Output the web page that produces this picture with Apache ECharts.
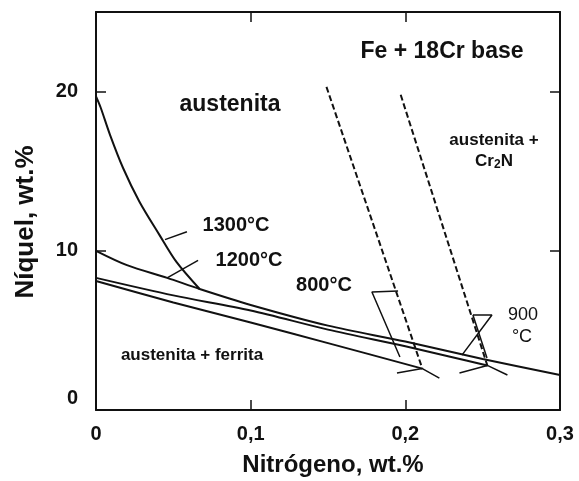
<!DOCTYPE html>
<html>
<head>
<meta charset="utf-8">
<script src="https://cdn.jsdelivr.net/npm/echarts@6/dist/echarts.min.js"></script>
<style>
	html, body { margin: 0; padding: 0; background: #fff; }
	#diagrama { width: 579px; height: 481px; }
</style>
</head>
<body>
<div id="diagrama"></div>
<script>
let ticksX = [0, 0.1, 0.2, 0.3];
let ticksY = [0, 10, 20];

let curva1300 = [[0, 19.7], [0.003, 19.0], [0.009, 17.3], [0.0175, 15.2], [0.028, 13.1], [0.041, 11.0], [0.052, 9.3], [0.067, 7.6]];
let curva1200 = [[0, 10.0], [0.02, 9.1], [0.046, 8.3], [0.067, 7.6], [0.1, 6.6], [0.15, 5.3], [0.2, 4.3], [0.25, 3.2], [0.3, 2.2]];
let limite900 = [[0, 8.3], [0.05, 7.2], [0.1, 6.25], [0.15, 5.05], [0.2, 4.0], [0.229, 3.35], [0.253, 2.8]];
let limite800 = [[0, 8.1], [0.05, 6.75], [0.1, 5.5], [0.15, 4.2], [0.211, 2.6]];

let trazo800 = [[0.149, 20.3], [0.211, 2.6]];
let trazo900 = [[0.197, 19.8], [0.253, 2.8]];

let remate800 = [[0.1946, 2.32], [0.211, 2.6], [0.222, 2.0]];
let remate900 = [[0.235, 2.32], [0.253, 2.8], [0.266, 2.2]];

let flecha1300 = [[0.0446, 10.7], [0.0588, 11.2]];
let flecha1200 = [[0.046, 8.3], [0.066, 9.4]];
let flecha800 = [[0.1953, 7.47], [0.1784, 7.41], [0.1965, 3.33]];
let flecha900a = [[0.2437, 5.97], [0.256, 5.97], [0.2366, 3.45]];
let flecha900b = [[0.2437, 5.97], [0.2528, 3.27]];

let fuente = 'Liberation Sans, Arial, sans-serif';

function linea(datos, ancho, suave, tipo) {
	return {
		type: 'line',
		data: datos,
		showSymbol: false,
		smooth: suave,
		silent: true,
		lineStyle: {color: '#111', width: ancho, type: tipo || 'solid'}
	};
}

function texto(x, y, t, size, peso) {
	return {
		type: 'text',
		x: x,
		y: y,
		style: {
			text: t,
			fill: '#111',
			fontFamily: fuente,
			fontSize: size,
			fontWeight: peso,
			align: 'center',
			verticalAlign: 'middle',
			rich: {
				sub: {fontSize: 12, fontWeight: 'bold', fontFamily: fuente, fill: '#111', padding: [8, 0, 0, 0]}
			}
		}
	};
}

// Define element
var grafico = echarts.init(document.getElementById('diagrama'));

function ejeBase() {
	return {
		axisLine: {onZero: false, lineStyle: {color: '#111', width: 2}},
		axisTick: {inside: true, length: 10, lineStyle: {color: '#111', width: 1.5}},
		splitLine: {show: false}
	};
}

var option = {
	animation: false,
	backgroundColor: '#fff',
	textStyle: {fontFamily: fuente},
	grid: {left: 96, right: 19, top: 12, bottom: 71, outerBoundsMode: 'none'},

	// Horizontal axis
	xAxis: [Object.assign(ejeBase(), {
		type: 'value',
		min: ticksX[0],
		max: ticksX[ticksX.length - 1],
		interval: 0.1,
		position: 'bottom',
		name: 'Nitrógeno, wt.%',
		nameLocation: 'middle',
		nameGap: 43,
		nameTextStyle: {fontSize: 24, fontWeight: 'bold', color: '#111', fontFamily: fuente, padding: [0, 0, 0, 10]},
		axisLabel: {
			fontSize: 20, fontWeight: 'bold', color: '#111', margin: 14,
			formatter: function (v) { return String(Math.round(v * 10) / 10).replace('.', ','); }
		}
	}), Object.assign(ejeBase(), {
		type: 'value',
		min: ticksX[0],
		max: ticksX[ticksX.length - 1],
		interval: 0.1,
		position: 'top',
		axisLabel: {show: false}
	})],

	// Vertical axis
	yAxis: [Object.assign(ejeBase(), {
		type: 'value',
		min: 0,
		max: 25,
		interval: 10,
		position: 'left',
		name: 'Níquel, wt.%',
		nameLocation: 'middle',
		nameGap: 57,
		nameTextStyle: {fontSize: 26, fontWeight: 'bold', color: '#111', fontFamily: fuente, padding: [0, 22, 0, 0]},
		axisLabel: {
			fontSize: 20, fontWeight: 'bold', color: '#111', margin: 18,
			showMaxLabel: false,
			formatter: function (v) {
				if (ticksY.indexOf(v) < 0) return '';
				return v === ticksY[0] ? '{z|' + v + '}' : String(v);
			},
			rich: {z: {fontSize: 20, fontWeight: 'bold', color: '#111', padding: [0, 0, 24, 0]}}
		}
	}), Object.assign(ejeBase(), {
		type: 'value',
		min: 0,
		max: 25,
		interval: 10,
		position: 'right',
		axisLabel: {show: false}
	})],

	// Add series
	series: [
		linea(curva1300, 2, 0.3),
		linea(curva1200, 2, 0.3),
		linea(limite900, 2, 0.3),
		linea(limite800, 2, 0.3),
		linea(trazo800, 2, false, [6, 3]),
		linea(trazo900, 2, false, [6, 3]),
		linea(remate800, 1.5, false),
		linea(remate900, 1.5, false),
		linea(flecha1300, 1.5, false),
		linea(flecha1200, 1.5, false),
		linea(flecha800, 1.5, false),
		linea(flecha900a, 1.5, false),
		linea(flecha900b, 1.5, false)
	],

	// Textos del diagrama
	graphic: [
		texto(442, 52, 'Fe + 18Cr base', 23, 'bold'),
		texto(230, 105, 'austenita', 23, 'bold'),
		texto(494, 140, 'austenita +', 17, 'bold'),
		texto(494, 161, 'Cr{sub|2}N', 17, 'bold'),
		texto(236, 225, '1300°C', 20, 'bold'),
		texto(249, 260, '1200°C', 20, 'bold'),
		texto(324, 285, '800°C', 20, 'bold'),
		texto(523, 315, '900', 18, 'normal'),
		texto(522, 337, '°C', 18, 'normal'),
		texto(192, 355, 'austenita + ferrita', 17, 'bold')
	]
};

grafico.setOption(option);
</script>
</body>
</html>
